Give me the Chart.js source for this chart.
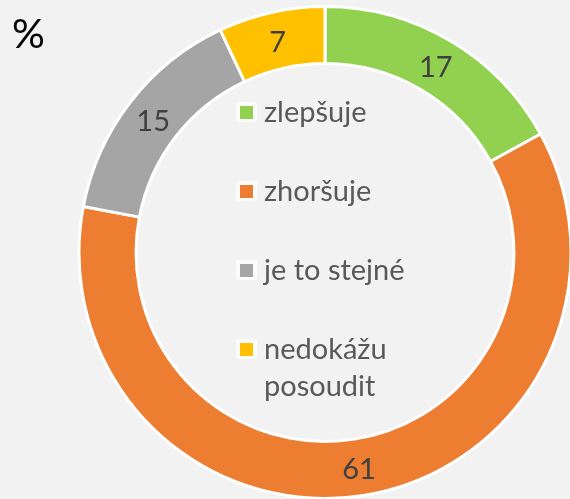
<!DOCTYPE html>
<html>
<head>
<meta charset="utf-8">
<script src="https://cdn.jsdelivr.net/npm/chart.js@4"></script>
<style>
  html, body { margin: 0; padding: 0; background: #f2f2f2; }
  canvas { display: block; }
</style>
</head>
<body>
<canvas id="chart" width="570" height="499"></canvas>
<script>
const categories = ['zlepšuje', 'zhoršuje', 'je to stejné', ['nedokážu', 'posoudit']]
const values = [17, 61, 15, 7]
const colors = ['#92d050', '#ed7d31', '#a5a5a5', '#ffc000']
const unitLabel = '%'

const FONT = 'Lato, "Open Sans", sans-serif'

// background + the "%" in the corner
const background = {
  id: 'background',
  beforeDraw(chart) {
    const ctx = chart.ctx
    ctx.save()
    ctx.fillStyle = '#f2f2f2'
    ctx.fillRect(0, 0, chart.width, chart.height)
    ctx.fillStyle = '#000000'
    ctx.font = '41px ' + FONT
    ctx.textBaseline = 'alphabetic'
    ctx.textAlign = 'left'
    ctx.fillText(unitLabel, 12, 48)
    ctx.restore()
  },
}

// numbers in the middle of each ring segment
const sliceLabels = {
  id: 'sliceLabels',
  afterDatasetsDraw(chart) {
    const ctx = chart.ctx
    const meta = chart.getDatasetMeta(0)
    ctx.save()
    ctx.fillStyle = '#404040'
    ctx.font = '29px ' + FONT
    ctx.textAlign = 'center'
    ctx.textBaseline = 'middle'
    meta.data.forEach((arc, i) => {
      const p = arc.tooltipPosition()
      ctx.fillText(String(values[i]), p.x, p.y + 2)
    })
    ctx.restore()
  },
}

// legend drawn inside the hole of the doughnut
const innerLegend = {
  id: 'innerLegend',
  afterDraw(chart) {
    const ctx = chart.ctx
    const x0 = 236
    const textX = 264
    const firstBaseline = 122
    const rowGap = 79
    const lineGap = 37
    ctx.save()
    ctx.font = '29px ' + FONT
    ctx.textAlign = 'left'
    ctx.textBaseline = 'alphabetic'
    categories.forEach((cat, i) => {
      const base = firstBaseline + i * rowGap
      // faint white box behind the swatch
      ctx.fillStyle = '#fbfbfb'
      ctx.beginPath()
      ctx.roundRect(x0, base - 20, 21, 20, 3)
      ctx.fill()
      ctx.fillStyle = colors[i]
      ctx.fillRect(x0 + 4, base - 16, 13, 13)
      ctx.fillStyle = '#595959'
      const lines = Array.isArray(cat) ? cat : [cat]
      lines.forEach((ln, j) => {
        ctx.fillText(ln, textX, base + j * lineGap)
      })
    })
    ctx.restore()
  },
}

const ctx = document.getElementById('chart').getContext('2d')
const chart = new Chart(ctx, {
  type: 'doughnut',
  data: {
    labels: categories.map((c) => (Array.isArray(c) ? c.join(' ') : c)),
    datasets: [
      {
        data: values,
        backgroundColor: colors,
        borderColor: '#ffffff',
        borderWidth: 3,
      },
    ],
  },
  options: {
    responsive: false,
    animation: false,
    radius: 246,
    cutout: 187,
    layout: {
      padding: { left: 80, right: 0, top: 6, bottom: 0 },
    },
    plugins: {
      legend: { display: false },
      tooltip: { enabled: false },
    },
  },
  plugins: [background, sliceLabels, innerLegend],
})
</script>
</body>
</html>
